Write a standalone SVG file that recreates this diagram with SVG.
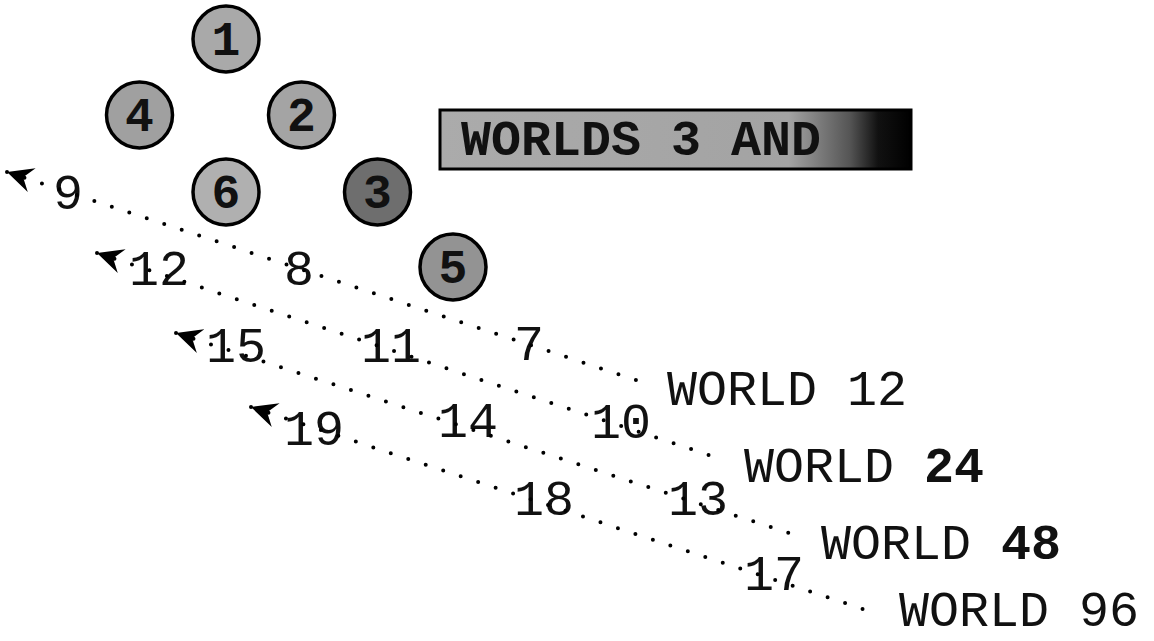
<svg xmlns="http://www.w3.org/2000/svg" width="1154" height="641" viewBox="0 0 1154 641">
<style>
.bg{fill:#ffffff}
.world circle{stroke:#000;stroke-width:3.5}
.world text{font-family:"Liberation Mono","DejaVu Sans Mono",monospace;font-size:48px;font-weight:bold;text-anchor:middle;fill:#111}
.lbl{font-family:"Liberation Mono","DejaVu Sans Mono",monospace;font-size:50px;fill:#111}
.dots{fill:none;stroke:#000;stroke-width:4;stroke-linecap:round;stroke-dasharray:0 18.4;marker-start:url(#arr)}
</style>
<defs>
<marker id="arr" viewBox="0 0 26 26" refX="0" refY="13" markerWidth="26" markerHeight="26" markerUnits="userSpaceOnUse" orient="auto">
<path d="M0,13 L26,0.5 L17,13 L26,25.5 Z" fill="#000"/>
</marker>
<linearGradient id="bannerGrad" x1="440" y1="0" x2="911" y2="0" gradientUnits="userSpaceOnUse">
<stop offset="0" stop-color="#ababab"/>
<stop offset="0.74" stop-color="#a3a3a3"/>
<stop offset="0.87" stop-color="#555"/>
<stop offset="0.93" stop-color="#111"/>
<stop offset="1" stop-color="#000"/>
</linearGradient>
</defs>
<rect class="bg" x="0" y="0" width="1154" height="641"/>

<g id="world1" class="world"><circle cx="226" cy="39" r="33" fill="#a9a9a9"/><text x="226" y="55">1</text></g>
<g id="world4" class="world"><circle cx="139.5" cy="115" r="33" fill="#a0a0a0"/><text x="139.5" y="131">4</text></g>
<g id="world2" class="world"><circle cx="301.5" cy="115" r="33" fill="#a4a4a4"/><text x="301.5" y="131">2</text></g>
<g id="world6" class="world"><circle cx="226" cy="192" r="33" fill="#b0b0b0"/><text x="226" y="208">6</text></g>
<g id="world3" class="world"><circle cx="377.5" cy="192" r="33" fill="#6e6e6e"/><text x="377.5" y="208">3</text></g>
<g id="world5" class="world"><circle cx="453" cy="267" r="33" fill="#939393"/><text x="453" y="283">5</text></g>

<g id="banner">
<rect x="440" y="110" width="471" height="59" fill="url(#bannerGrad)" stroke="#000" stroke-width="3"/>
<text class="lbl" x="461" y="155" font-weight="bold">WORLDS 3 AND</text>
</g>

<g id="labels">
<text class="lbl" x="53" y="209">9</text>
<text class="lbl" x="129" y="285">12</text>
<text class="lbl" x="284" y="285">8</text>
<text class="lbl" x="206" y="362">15</text>
<text class="lbl" x="361" y="362">11</text>
<text class="lbl" x="514" y="360">7</text>
<text class="lbl" x="284" y="445">19</text>
<text class="lbl" x="438" y="437">14</text>
<text class="lbl" x="591" y="438">10</text>
<text class="lbl" x="514" y="515">18</text>
<text class="lbl" x="668" y="515">13</text>
<text class="lbl" x="744" y="590">17</text>
</g>

<g id="world12"><text class="lbl" x="667" y="405">WORLD 12</text></g>
<g id="world24"><text class="lbl" x="744" y="482">WORLD <tspan font-weight="bold">24</tspan></text></g>
<g id="world48"><text class="lbl" x="821" y="559">WORLD <tspan font-weight="bold">48</tspan></text></g>
<g id="world96"><text class="lbl" x="899" y="626">WORLD 96</text></g>

<g id="connectors">
<line class="dots" x1="7" y1="172" x2="642" y2="382"/>
<line class="dots" x1="97" y1="253" x2="718" y2="458"/>
<line class="dots" x1="176" y1="333" x2="795" y2="535"/>
<line class="dots" x1="251" y1="407" x2="872" y2="612"/>
</g>
</svg>
